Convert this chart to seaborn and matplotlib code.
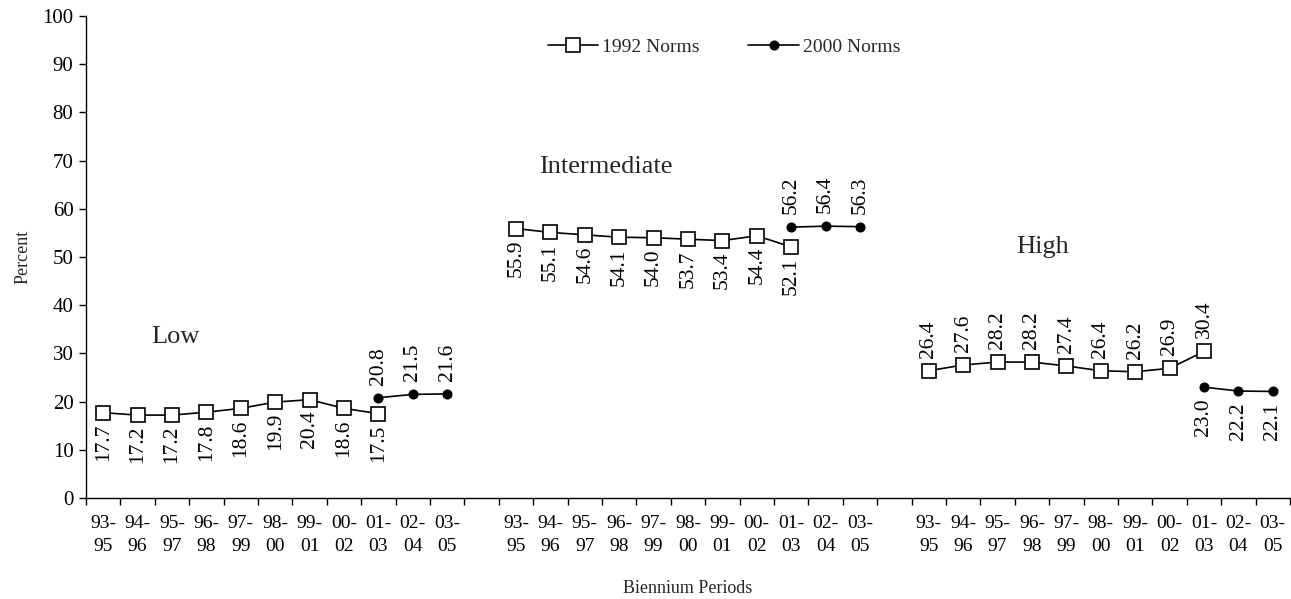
import pandas as pd
import seaborn as sns
import matplotlib.pyplot as plt

# values
periods = ["93-\n95", "94-\n96", "95-\n97", "96-\n98", "97-\n99", "98-\n00",
           "99-\n01", "00-\n02", "01-\n03", "02-\n04", "03-\n05"]
groups = ["Low", "Intermediate", "High"]

low_1992 = [17.7, 17.2, 17.2, 17.8, 18.6, 19.9, 20.4, 18.6, 17.5]
low_2000 = [20.8, 21.5, 21.6]
int_1992 = [55.9, 55.1, 54.6, 54.1, 54.0, 53.7, 53.4, 54.4, 52.1]
int_2000 = [56.2, 56.4, 56.3]
high_1992 = [26.4, 27.6, 28.2, 28.2, 27.4, 26.4, 26.2, 26.9, 30.4]
high_2000 = [23.0, 22.2, 22.1]

# build long table: 1992 norms cover first 9 periods, 2000 norms last 3
rows = []
for g, (v92, v00) in zip(groups, [(low_1992, low_2000), (int_1992, int_2000),
                                  (high_1992, high_2000)]):
    for p, v in zip(periods[:9], v92):
        rows.append((g, p, "1992 Norms", v))
    for p, v in zip(periods[8:], v00):
        rows.append((g, p, "2000 Norms", v))
df = pd.DataFrame(rows, columns=["group", "period", "norm", "percent"])

# category slots: 11 periods per group plus one blank slot between groups
slot_labels = periods + [""] + periods + [""] + periods
df["slot"] = df.apply(lambda r: groups.index(r["group"]) * 12 + periods.index(r["period"]), axis=1)

sns.set_theme(style="ticks")
plt.rcParams['font.family'] = ['Liberation Serif', 'DejaVu Serif']

fig = plt.figure(figsize=(12.91, 5.99), dpi=100)
ax = fig.add_axes([0.0666, 0.1686, 0.9326, 0.8047])

styles = {
    "1992 Norms": dict(marker="s", markersize=10, markerfacecolor="white",
                       markeredgecolor="black", markeredgewidth=1.2),
    "2000 Norms": dict(marker="o", markersize=6.5, markerfacecolor="black",
                       markeredgecolor="black"),
}
# 1992 labels sit below points except in High group
below_1992 = {"Low": True, "Intermediate": True, "High": False}

for g in groups:
    for norm in ["1992 Norms", "2000 Norms"]:
        seg = df[(df.group == g) & (df.norm == norm)]
        sns.lineplot(data=seg, x="slot", y="percent", color="black", linewidth=1.2,
                     ax=ax, label=norm if g == "Low" else None, **styles[norm])
        below = below_1992[g] if norm == "1992 Norms" else not below_1992[g]
        for _, r in seg.iterrows():
            ax.annotate(f"{r['percent']:.1f}", (r["slot"], r["percent"]),
                        xytext=(0, -11 if below else 13), textcoords="offset pixels",
                        rotation=90, ha="center", va="top" if below else "bottom",
                        fontsize=15.5, color="black")

ax.text(2.1, 33.5, "Low", fontsize=19, ha="center", va="center")
ax.text(14.6, 68.7, "Intermediate", fontsize=19, ha="center", va="center")
ax.text(27.3, 52, "High", fontsize=19, ha="center", va="center")

ax.set_xlim(-0.5, len(slot_labels) - 0.5)
ax.set_ylim(0, 100)
ax.set_yticks(range(0, 101, 10))
ax.set_xticks(range(len(slot_labels)))
ax.set_xticklabels(slot_labels, fontsize=14, linespacing=1.45)
ax.set_xticks([i - 0.5 for i in range(len(slot_labels) + 1)], minor=True)
ax.tick_params(axis="x", which="major", length=0, pad=12)
ax.tick_params(axis="x", which="minor", length=5, width=1, color="black")
ax.tick_params(axis="y", length=5, width=1, color="black", labelsize=15, pad=4)
for t in ax.get_yticklabels() + ax.get_xticklabels():
    t.set_color("black")

for s in ["top", "right"]:
    ax.spines[s].set_visible(False)
for s in ["left", "bottom"]:
    ax.spines[s].set_color("black")
    ax.spines[s].set_linewidth(1)

ax.set_xlabel("Biennium Periods", fontsize=13, labelpad=18)
ax.set_ylabel("Percent", fontsize=13, labelpad=8)
ax.legend(loc="center", bbox_to_anchor=(0.53, 0.935), ncol=2, frameon=False,
          fontsize=14, numpoints=1, handlelength=2.6, columnspacing=2.5,
          handletextpad=0.2)

fig.savefig("out.png", dpi=100)
